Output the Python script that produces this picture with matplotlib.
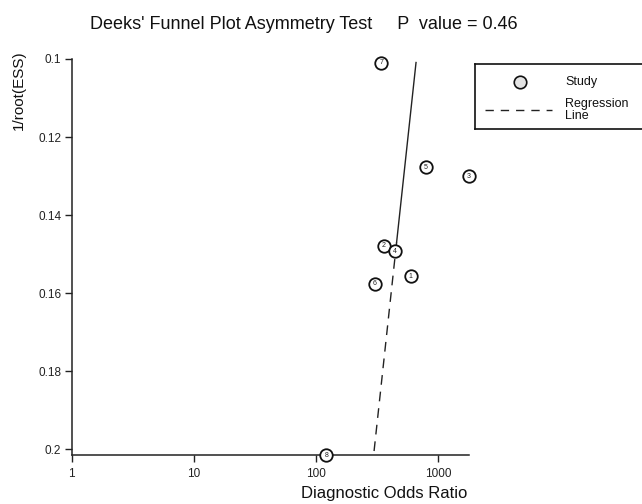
import numpy as np
import matplotlib
matplotlib.use("Agg")
import matplotlib.pyplot as plt
from matplotlib.lines import Line2D

plt.rcParams['font.family'] = ['Liberation Sans', 'DejaVu Sans']

# ---- data ----
study_ids = ['1', '2', '3', '4', '5', '6', '7', '8']
dor = [598, 361, 1785, 442, 793, 303, 344, 122]
inv_root_ess = [0.1556, 0.1478, 0.1300, 0.1493, 0.1277, 0.1576, 0.1009, 0.2015]

reg_inv_root_ess = [0.1009, 0.2015]
reg_dor = [661, 297]
solid_until = 0.147

x_ticks = [1, 10, 100, 1000]
x_tick_labels = ['1', '10', '100', '1000']
y_ticks = [0.1, 0.12, 0.14, 0.16, 0.18, 0.2]
y_tick_labels = ['0.1', '0.12', '0.14', '0.16', '0.18', '0.2']

title_text = "Deeks' Funnel Plot Asymmetry Test     P  value = 0.46"
x_label = "Diagnostic Odds Ratio"
y_label = "1/root(ESS)"

W, H = 642, 504
fig = plt.figure(figsize=(W / 100, H / 100), dpi=100)
ax = fig.add_axes([71.7 / W, 1 - 455.3 / H, (469 - 71.7) / W, (455.3 - 59) / H])

ax.set_xscale('log')
ax.set_xlim(1, 1795)
ax.set_ylim(0.2015, 0.1)

for s in ['top', 'right']:
    ax.spines[s].set_visible(False)
for s in ['left', 'bottom']:
    ax.spines[s].set_linewidth(1.1)
    ax.spines[s].set_color('#222222')

ax.set_xticks(x_ticks)
ax.set_xticklabels(x_tick_labels)
ax.xaxis.set_minor_locator(matplotlib.ticker.NullLocator())
ax.set_yticks(y_ticks)
ax.set_yticklabels(y_tick_labels)
ax.tick_params(axis='x', direction='out', length=5, width=1, pad=4.5, labelsize=8.5, colors='#222222')
ax.tick_params(axis='y', direction='out', length=5, width=1, pad=2.5, labelsize=8.5, colors='#222222')

# regression line: solid upper part, dashed lower part
ly = np.log10(reg_dor)
split_x = 10 ** np.interp(solid_until, reg_inv_root_ess, ly)
ax.plot([reg_dor[0], split_x], [reg_inv_root_ess[0], solid_until], color='#222222', lw=1.0, zorder=2)
ax.plot([split_x, reg_dor[1]], [solid_until, reg_inv_root_ess[1]], color='#222222', lw=1.0,
        dashes=(7, 5), zorder=2)

# studies
ax.plot(dor, inv_root_ess, linestyle='none', marker='o', markersize=9, markerfacecolor='white',
        markeredgecolor='#111111', markeredgewidth=1.3, clip_on=False, zorder=3)
for sid, xv, yv in zip(study_ids, dor, inv_root_ess):
    ax.text(xv, yv, sid, fontsize=5, ha='center', va='center', color='#222222', zorder=4,
            clip_on=False)

# titles / labels
fig.text(90 / W, 1 - 29 / H, title_text, fontsize=13, ha='left', va='baseline', color='#111111')
fig.text(467 / W, 1 - 498 / H, x_label, fontsize=12, ha='right', va='baseline', color='#111111')
fig.text(19 / W, 1 - 50 / H, y_label, fontsize=11, rotation=90, ha='center', va='top', color='#111111')

# legend (manual box, extends past right edge)
lax = fig.add_axes([475 / W, 1 - 129 / H, 200 / W, 65 / H])
lax.set_xlim(0, 200)
lax.set_ylim(0, 65)
lax.set_xticks([])
lax.set_yticks([])
for s in lax.spines.values():
    s.set_linewidth(1.2)
    s.set_color('#111111')
lax.add_line(Line2D([45], [47], marker='o', markersize=9, markerfacecolor='#e4e4e4',
                    markeredgecolor='#111111', markeredgewidth=1.2, linestyle='none'))
lax.add_line(Line2D([10, 77], [19, 19], color='#222222', lw=1.0, dashes=(6, 5)))
lax.text(90, 47, 'Study', fontsize=9, ha='left', va='center', color='#111111')
lax.text(90, 19, 'Regression\nLine', fontsize=9, ha='left', va='center', color='#111111',
         linespacing=1.0)

fig.savefig('out.png', dpi=100)
